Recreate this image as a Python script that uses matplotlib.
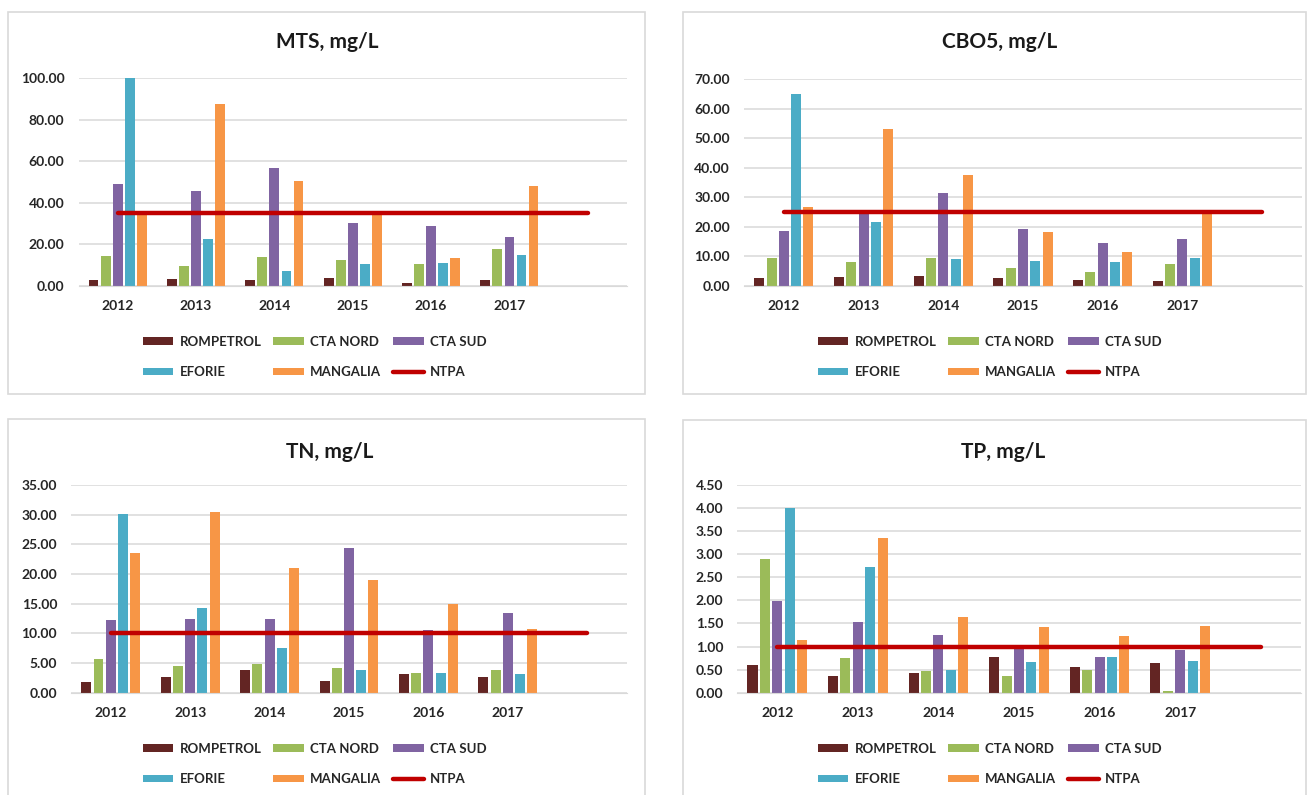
import numpy as np
from matplotlib import pyplot as plt
from matplotlib.patches import Rectangle

plt.rcParams['font.family'] = ['Lato', 'DejaVu Sans']

years = ['2012', '2013', '2014', '2015', '2016', '2017']
series = ['ROMPETROL', 'CTA NORD', 'CTA SUD', 'EFORIE', 'MANGALIA']
colors = ['#632523', '#9BBB59', '#8064A2', '#4BACC6', '#F79646']
ntpa_color = '#C00000'

# MTS, mg/L
mts = {
    'ROMPETROL': [2.7, 3.0, 2.7, 3.5, 1.4, 2.6],
    'CTA NORD': [14.3, 9.6, 13.8, 12.4, 10.3, 17.8],
    'CTA SUD': [49.0, 45.5, 56.8, 30.2, 28.8, 23.5],
    'EFORIE': [100.0, 22.5, 7.2, 10.3, 10.9, 15.0],
    'MANGALIA': [35.5, 87.6, 50.6, 34.5, 13.3, 48.1],
}
mts_ntpa = 35

# CBO5, mg/L
cbo5 = {
    'ROMPETROL': [2.6, 2.9, 3.2, 2.6, 2.0, 1.6],
    'CTA NORD': [9.5, 8.1, 9.5, 6.1, 4.7, 7.2],
    'CTA SUD': [18.4, 25.5, 31.4, 19.2, 14.5, 15.8],
    'EFORIE': [64.9, 21.6, 9.0, 8.4, 8.1, 9.3],
    'MANGALIA': [26.8, 53.0, 37.4, 18.2, 11.5, 24.2],
}
cbo5_ntpa = 25

# TN, mg/L
tn = {
    'ROMPETROL': [1.8, 2.6, 3.8, 2.0, 3.2, 2.6],
    'CTA NORD': [5.6, 4.5, 4.8, 4.2, 3.4, 3.9],
    'CTA SUD': [12.2, 12.4, 12.4, 24.4, 10.6, 13.4],
    'EFORIE': [30.1, 14.3, 7.5, 3.9, 3.3, 3.1],
    'MANGALIA': [23.5, 30.4, 21.0, 19.0, 14.9, 10.7],
}
tn_ntpa = 10

# TP, mg/L
tp = {
    'ROMPETROL': [0.60, 0.37, 0.42, 0.78, 0.55, 0.65],
    'CTA NORD': [2.90, 0.76, 0.46, 0.37, 0.49, 0.04],
    'CTA SUD': [1.98, 1.54, 1.24, 0.97, 0.78, 0.92],
    'EFORIE': [4.00, 2.72, 0.49, 0.66, 0.78, 0.69],
    'MANGALIA': [1.15, 3.35, 1.64, 1.42, 1.22, 1.45],
}
tp_ntpa = 1.0

W, H = 1307, 795
fig = plt.figure(figsize=(W / 100, H / 100), dpi=100)


def rect(x0, y0, x1, y1):
    return [x0 / W, 1 - y1 / H, (x1 - x0) / W, (y1 - y0) / H]


def panel(box, area, title, title_xy, data, ntpa, ymax, ystep, leg_xy):
    # panel frame
    fig.patches.append(Rectangle((box[0] / W, 1 - box[3] / H), (box[2] - box[0]) / W,
                                 (box[3] - box[1]) / H, transform=fig.transFigure,
                                 fill=False, edgecolor='#D9D9D9', lw=1.2))
    ax = fig.add_axes(rect(*area))
    x = np.arange(len(years))
    step = 0.154
    handles = []
    for i, name in enumerate(series):
        b = ax.bar(x + (i - 2) * step, data[name], width=0.125, color=colors[i],
                   label=name, zorder=2)
        handles.append(b)
    xl = np.arange(len(years) + 1)
    ln, = ax.plot(xl, [ntpa] * len(xl), color=ntpa_color, lw=3.2, label='NTPA',
                  solid_capstyle='round', zorder=3)
    handles.append(ln)
    labels = series + ['NTPA']
    ax.set_xlim(-0.5, len(years) + 0.5)
    ax.set_ylim(0, ymax)
    ax.set_yticks(np.arange(0, ymax + ystep / 2, ystep))
    ax.yaxis.set_major_formatter(plt.FormatStrFormatter('%.2f'))
    ax.set_xticks(xl)
    ax.set_xticklabels(years + [''])
    ax.grid(axis='y', color='#D9D9D9', lw=1.1, zorder=0)
    for s in ['top', 'right', 'left']:
        ax.spines[s].set_visible(False)
    ax.spines['bottom'].set_color('#D9D9D9')
    ax.tick_params(length=0, labelsize=10, pad=10, labelcolor='#262626')
    for lab in ax.get_xticklabels() + ax.get_yticklabels():
        lab.set_fontweight('bold')
    ax.set_facecolor('none')
    fig.text(title_xy[0] / W, 1 - title_xy[1] / H, title, ha='center', va='center',
             fontsize=15, fontweight='bold', color='#1a1a1a')
    # row-major order for a 3-column legend
    order = [0, 3, 1, 4, 2, 5]
    ax.legend([handles[k] for k in order], [labels[k] for k in order], ncol=3,
              loc='upper left', bbox_to_anchor=(leg_xy[0] / W, 1 - leg_xy[1] / H),
              bbox_transform=fig.transFigure, frameon=False, borderpad=0,
              handlelength=2.3, handleheight=0.5, handletextpad=0.5,
              columnspacing=0.9, labelspacing=1.4,
              prop={'size': 9.5, 'weight': 'bold'}, labelcolor='#262626')
    return ax


panel((8, 12, 645, 394), (78.5, 78.3, 627, 285.7), 'MTS, mg/L', (327, 42),
      mts, mts_ntpa, 100, 20, (136, 329))
panel((683, 12, 1306, 394), (744, 79, 1302, 285.7), 'CBO5, mg/L', (1000, 42),
      cbo5, cbo5_ntpa, 70, 10, (811, 329))
panel((8, 419, 645, 800), (71, 485, 627, 692.7), 'TN, mg/L', (330, 452),
      tn, tn_ntpa, 35, 5, (136, 736))
panel((683, 420, 1306, 800), (737, 485, 1301, 692.7), 'TP, mg/L', (1003, 452),
      tp, tp_ntpa, 4.5, 0.5, (811, 736))

fig.savefig('out.png', dpi=100)
